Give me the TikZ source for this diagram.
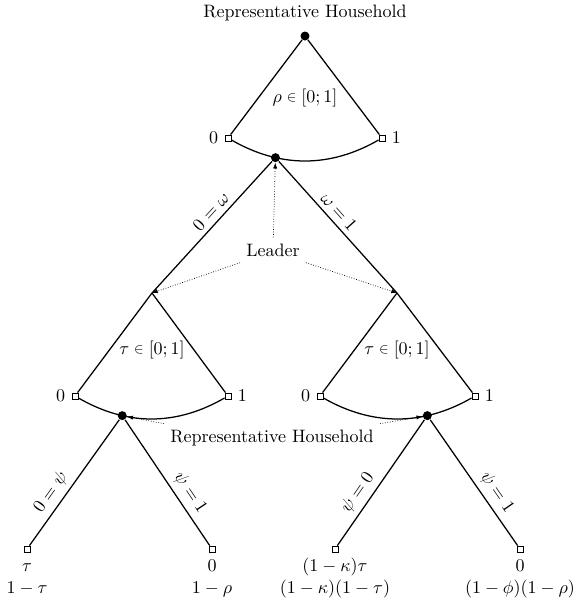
\documentclass[tikz,border=0pt]{standalone}
\usepackage{graphicx}
\usetikzlibrary{arrows.meta}
\newcommand{\smin}{\mathrel{\vcenter{\hbox{\scalebox{0.8}{$\in$}}}}}
\begin{document}
\begin{tikzpicture}[x=0.556pt,y=-0.556pt,
  dot/.style={circle,fill=black,inner sep=0pt,minimum size=5pt},
  leaf/.style={draw,fill=white,inner sep=0pt,minimum size=3.3pt,line width=0.5pt},
  edge/.style={line width=0.7pt},
  pointer/.style={densely dotted,line width=0.4pt,-{Latex[length=3.2pt,width=2.4pt]}},
  elab/.style={sloped,above,inner sep=2.6pt},
  payoff/.style={below,align=center,inner sep=2pt}]
\useasboundingbox (0,0) rectangle (573,603);
% ---------- top level ----------
\node[dot] (r) at (305,36) {};
\node (rhtop) at (305,13) {Representative Household};
\node[leaf] (s0) at (228,138) {};
\node[leaf] (s1) at (382,138) {};
\draw[edge] (r) -- (s0);
\draw[edge] (r) -- (s1);
\draw[edge] (s0) .. controls +(52,30) and +(-52,30) .. node[dot,pos=0.3] (h) {} (s1);
\node[left] (s0lab) at (s0.west) {0};
\node[right] (s1lab) at (s1.east) {1};
\node (rho) at (305,98) {$\rho\smin[0;1]$};
% ---------- leader branches ----------
\coordinate (a0) at (152,293);
\coordinate (a1) at (397,293);
\draw[edge] (h) -- node[elab,pos=0.44] {$0=\omega$} (a0);
\draw[edge] (h) -- node[elab,pos=0.44] {$\omega=1$} (a1);
\node (ld) at (273,250) {Leader};
\draw[pointer] (ld) -- (h);
\draw[pointer] (ld.south west) -- (a0);
\draw[pointer] (ld.south east) -- (a1);
% ---------- left subtree ----------
\node[leaf] (t00) at (75,396) {};
\node[leaf] (t01) at (228,396) {};
\draw[edge] (a0) -- (t00);
\draw[edge] (a0) -- (t01);
\draw[edge] (t00) .. controls +(52,30) and +(-52,30) .. node[dot,pos=0.3] (hl) {} (t01);
\node[left] (t00lab) at (t00.west) {0};
\node[right] (t01lab) at (t01.east) {1};
\node (tauL) at (152,350) {$\tau\smin[0;1]$};
% ---------- right subtree ----------
\node[leaf] (t10) at (320,396) {};
\node[leaf] (t11) at (475,396) {};
\draw[edge] (a1) -- (t10);
\draw[edge] (a1) -- (t11);
\draw[edge] (t10) .. controls +(52,30) and +(-52,30) .. node[dot,pos=0.7] (hr) {} (t11);
\node[left] (t10lab) at (t10.west) {0};
\node[right] (t11lab) at (t11.east) {1};
\node (tauR) at (397,350) {$\tau\smin[0;1]$};
% ---------- household pointers ----------
\node (rh2) at (272,438) {Representative Household};
\draw[pointer] (rh2.north west) -- (hl);
\draw[pointer] (rh2.north east) -- (hr);
% ---------- leaves ----------
\node[leaf] (z1) at (27,549) {};
\node[leaf] (z2) at (212,549) {};
\node[leaf] (z3) at (335,549) {};
\node[leaf] (z4) at (520,549) {};
\draw[edge] (hl) -- node[elab,pos=0.64] {$0=\psi$} (z1);
\draw[edge] (hl) -- node[elab,pos=0.64] {$\psi=1$} (z2);
\draw[edge] (hr) -- node[elab,pos=0.64] {$\psi=0$} (z3);
\draw[edge] (hr) -- node[elab,pos=0.64] {$\psi=1$} (z4);
\node[payoff] (p1) at (z1.south) {\strut$\tau$\\$1-\tau$};
\node[payoff] (p2) at (z2.south) {\strut$0$\\$1-\rho$};
\node[payoff] (p3) at (z3.south) {\strut$(1-\kappa)\tau$\\$(1-\kappa)(1-\tau)$};
\node[payoff] (p4) at (z4.south) {\strut$0$\\$(1-\phi)(1-\rho)$};
\end{tikzpicture}
\end{document}
